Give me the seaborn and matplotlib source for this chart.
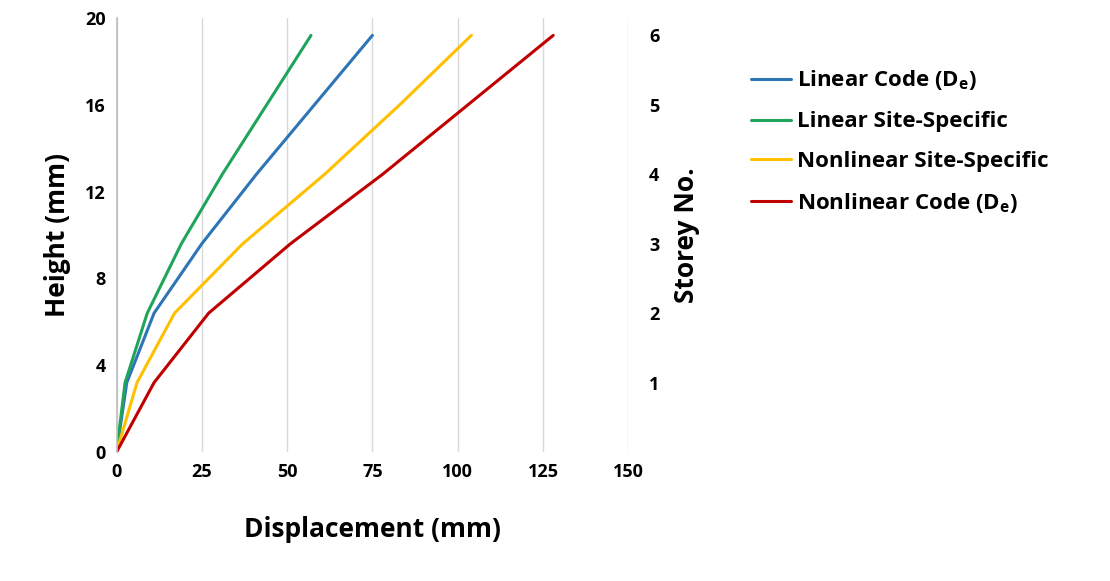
import pandas as pd
import seaborn as sns
import matplotlib.pyplot as plt

storey_height = [0, 3.2, 6.4, 9.6, 12.8, 16.0, 19.2]
storey_labels = ["1", "2", "3", "4", "5", "6"]
linear_code = [0, 3, 11, 25, 41, 58, 75]
linear_site = [0, 2.5, 9, 19, 31, 44, 57]
nonlinear_site = [0, 6, 17, 37, 61, 83, 104]
nonlinear_code = [0, 11, 27, 51, 78, 103, 128]

names = ["Linear Code (D$_\\mathregular{e}$)", "Linear Site-Specific",
         "Nonlinear Site-Specific", "Nonlinear Code (D$_\\mathregular{e}$)"]
series = [linear_code, linear_site, nonlinear_site, nonlinear_code]
colors = ["#2E75B6", "#1FA55B", "#FFC000", "#C00000"]

rows = []
for n, vals in zip(names, series):
    for h, d in zip(storey_height, vals):
        rows.append({"Displacement": d, "Height": h, "Case": n})
df = pd.DataFrame(rows)

sns.set_theme(style="white")
plt.rcParams['font.family'] = ['Open Sans', 'DejaVu Sans']
plt.rcParams['font.weight'] = 'bold'
plt.rcParams['text.color'] = 'black'
plt.rcParams['axes.labelcolor'] = 'black'
plt.rcParams['xtick.color'] = 'black'
plt.rcParams['ytick.color'] = 'black'

fig = plt.figure(figsize=(11.1, 5.81), dpi=100)
ax = fig.add_axes([0.105, 0.222, 0.461, 0.747])
sns.lineplot(data=df, x="Displacement", y="Height", hue="Case", palette=colors,
             sort=False, estimator=None, linewidth=2.2, ax=ax)

ax.set_xlim(0, 150)
ax.set_ylim(0, 20)
ax.set_xticks([0, 25, 50, 75, 100, 125, 150])
ax.set_yticks([0, 4, 8, 12, 16, 20])
ax.grid(axis='x', color='#d9d9d9', linewidth=1)
for s in ax.spines.values():
    s.set_visible(False)
ax.spines['left'].set_visible(True)
ax.spines['left'].set_color('#bfbfbf')
ax.tick_params(labelsize=13, length=0, pad=8)
ax.set_xlabel("Displacement (mm)", fontsize=19, fontweight='bold', labelpad=25)
ax.set_ylabel("Height (mm)", fontsize=19, fontweight='bold', labelpad=10)

ax2 = ax.twinx()
ax2.set_ylim(0, 20)
ax2.set_yticks(storey_height[1:])
ax2.set_yticklabels(storey_labels)
ax2.tick_params(labelsize=13, length=0, pad=15)
for s in ax2.spines.values():
    s.set_visible(False)
ax2.set_ylabel("Storey No.", fontsize=19, fontweight='bold', labelpad=10)

ax.legend(loc='upper left', bbox_to_anchor=(1.2, 0.93), frameon=False,
          fontsize=16, handlelength=1.8, labelspacing=0.85, handletextpad=0.3)

plt.savefig("out.png", dpi=100)
